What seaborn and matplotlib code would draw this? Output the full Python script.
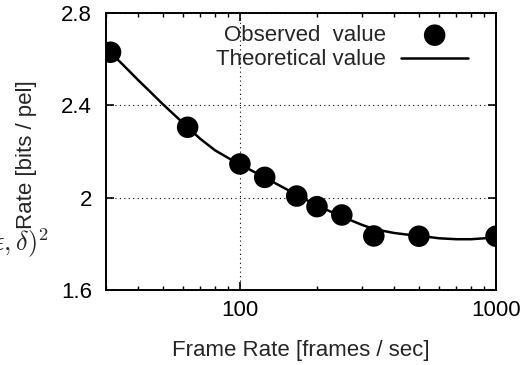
import numpy as np
import pandas as pd
import matplotlib
matplotlib.use("Agg")
import matplotlib.pyplot as plt
import seaborn as sns

# Observed points
frame_rate_obs = [31.25, 62.5, 100, 125, 166.7, 200, 250, 333.3, 500, 1000]
rate_obs = [2.630, 2.305, 2.146, 2.088, 2.007, 1.961, 1.925, 1.834, 1.833, 1.833]

# Theoretical curve
frame_rate_th = [30, 35, 40, 45, 50, 62.5, 70, 80, 90, 100, 110, 125, 150, 166.7,
                 200, 250, 300, 333.3, 400, 450, 500, 600, 700, 800, 900, 1000]
rate_th = [2.648, 2.575, 2.510, 2.455, 2.405, 2.305, 2.255, 2.205, 2.172, 2.146,
           2.120, 2.087, 2.040, 2.012, 1.966, 1.918, 1.882, 1.864, 1.847, 1.840,
           1.835, 1.824, 1.820, 1.820, 1.824, 1.832]

x_ticks = [100, 1000]
y_ticks = [1.6, 2.0, 2.4, 2.8]
y_tick_labels = ["1.6", "2", "2.4", "2.8"]

obs = pd.DataFrame({"frame_rate": frame_rate_obs, "rate": rate_obs})
th = pd.DataFrame({"frame_rate": frame_rate_th, "rate": rate_th})

sns.set_style("ticks")
plt.rcParams["font.family"] = ["Liberation Sans", "DejaVu Sans"]
plt.rcParams["mathtext.fontset"] = "cm"

fig = plt.figure(figsize=(5.29, 3.65), dpi=100)
ax = fig.add_axes([106 / 529, 1 - 290 / 365, 390 / 529, 277 / 365])

sns.lineplot(data=th, x="frame_rate", y="rate", color="black", linewidth=1.8,
             ax=ax, label="Theoretical value", zorder=2)
sns.scatterplot(data=obs, x="frame_rate", y="rate", color="black", s=240,
                edgecolor="none", ax=ax, label="Observed  value", zorder=3)

ax.set_xscale("log")
ax.set_xlim(30, 1000)
ax.set_ylim(1.6, 2.8)
ax.set_xticks(x_ticks)
ax.set_xticklabels([str(t) for t in x_ticks])
ax.set_yticks(y_ticks)
ax.set_yticklabels(y_tick_labels)

ax.grid(True, which="major", color="black", linestyle=(0, (1, 3)), linewidth=0.8)
ax.set_axisbelow(True)

for s in ax.spines.values():
    s.set_visible(True)
    s.set_linewidth(1.4)
    s.set_color("black")

ax.tick_params(which="both", direction="in", top=True, right=True,
               colors="black", labelsize=16)
ax.tick_params(which="major", length=6, width=1.2)
ax.tick_params(which="minor", length=3, width=1.0)
ax.tick_params(axis="x", pad=7)
ax.tick_params(axis="y", pad=10)
ax.tick_params(axis="x", which="minor", labelbottom=False)

ax.set_xlabel("Frame Rate [frames / sec]", fontsize=16, labelpad=14)
ax.set_ylabel("Rate [bits / pel]", fontsize=16)
ax.yaxis.set_label_coords((37 - 106) / 390, (290 - 155) / 277)

# stray math label clipped at the left edge
fig.text(49 / 529, 1 - 251 / 365, r"$D(\epsilon,\delta)^2$", fontsize=19,
         ha="right", va="baseline")

# legend: text right-aligned, handle on the right
handles, labels = ax.get_legend_handles_labels()
order = [labels.index("Observed  value"), labels.index("Theoretical value")]
leg = ax.legend([handles[i] for i in order], [labels[i] for i in order],
                loc="upper right", bbox_to_anchor=((468 - 106) / 390, (290 - 25) / 277),
                frameon=False, fontsize=16, markerfirst=False, borderpad=0,
                borderaxespad=0, handlelength=3.0, handletextpad=0.68,
                labelspacing=0.15)
for col in leg._legend_handle_box.get_children():
    col.align = "right"

fig.savefig("out.png", dpi=100)
